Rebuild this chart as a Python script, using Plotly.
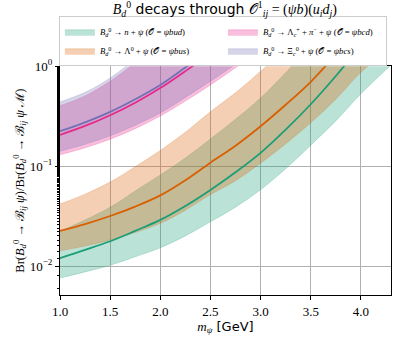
import plotly.graph_objects as go

# x grid (m_psi in GeV)
m_psi = [1.0, 1.25, 1.5, 1.75, 2.0, 2.25, 2.5, 2.75, 3.0, 3.25, 3.5, 3.75, 4.0, 4.3]

# B_d^0 -> n + psi  (O = psi b u d)
n_mid = [0.0120, 0.0145, 0.0177, 0.0225, 0.0290, 0.0400, 0.0579, 0.0869, 0.136, 0.232, 0.417, 0.80, 1.60, 3.40]
n_lo = [0.00757, 0.00874, 0.01018, 0.01238, 0.01523, 0.02004, 0.02773, 0.03884, 0.05807, 0.0944, 0.1622, 0.284, 0.530, 1.03]
n_hi = [0.02234, 0.02893, 0.03873, 0.05652, 0.08172, 0.1208, 0.1874, 0.2944, 0.4825, 0.862, 1.622, 3.185, 6.67, 14.8]

# B_d^0 -> Lambda^0 + psi  (O = psi b u s)
lam_mid = [0.0225, 0.0263, 0.0317, 0.0394, 0.0510, 0.0724, 0.1084, 0.1603, 0.251, 0.412, 0.700, 1.318, 2.63, 5.0]
lam_lo = [0.0142, 0.01586, 0.01823, 0.02167, 0.02678, 0.03627, 0.05192, 0.07165, 0.1072, 0.1677, 0.2723, 0.4679, 0.8705, 1.51]
lam_hi = [0.0419, 0.05247, 0.06936, 0.09897, 0.1437, 0.2186, 0.3508, 0.5431, 0.8905, 1.531, 2.723, 5.247, 10.96, 21.8]

# B_d^0 -> Lambda_c^+ + pi^- + psi  (O = psi b c d)
lc_mid = [0.206, 0.253, 0.324, 0.432, 0.605, 0.895, 1.36, 2.16, 3.5, 5.8, 9.7, 16.6, 28.5, 55.0]
lc_lo = [0.130, 0.1526, 0.1863, 0.2376, 0.3176, 0.4484, 0.6514, 0.9655, 1.4945, 2.36, 3.77, 5.89, 9.43, 16.6]
lc_hi = [0.402, 0.5047, 0.7089, 1.085, 1.705, 2.703, 4.40, 7.32, 12.4, 21.5, 37.7, 66.1, 118.8, 240.0]

# B_d^0 -> Xi_c^0 + psi  (O = psi b c s)
xi_mid = [0.224, 0.275, 0.350, 0.468, 0.650, 0.973, 1.479, 2.344, 3.80, 6.3, 10.5, 18.0, 31.0, 60.0]
xi_lo = [0.1413, 0.1658, 0.2013, 0.2574, 0.3413, 0.4875, 0.7084, 1.048, 1.623, 2.564, 4.085, 6.39, 10.26, 18.1]
xi_hi = [0.44, 0.5486, 0.7658, 1.176, 1.832, 2.938, 4.786, 7.94, 13.5, 23.4, 40.8, 71.7, 129.0, 262.0]

x_ticks = [1.0, 1.5, 2.0, 2.5, 3.0, 3.5, 4.0]
x_ticktext = ["1.0", "1.5", "2.0", "2.5", "3.0", "3.5", "4.0"]
y_ticks = [0.01, 0.1, 1]
y_ticktext = ["10<sup>−2</sup>", "10<sup>−1</sup>", "10<sup>0</sup>"]

SANS = "DejaVu Sans"
SERIF = "Liberation Serif"

def sans(t):
    return f'<span style="font-family:{SANS}">{t}</span>'

Bd = "<i>B</i><sub><i>d</i></sub><sup>0</sup>"

series = [
    (Bd + " → <i>n</i> + <i>ψ</i> (𝒪 = <i>ψbud</i>)", n_lo, n_mid, n_hi, (27, 158, 119), 1),
    (Bd + " → Λ<sup>0</sup> + <i>ψ</i> (𝒪 = <i>ψbus</i>)", lam_lo, lam_mid, lam_hi, (217, 95, 2), 3),
    (Bd + " → Λ<sub><i>c</i></sub><sup>+</sup> + <i>π</i><sup>−</sup> + <i>ψ</i> (𝒪 = <i>ψbcd</i>)", lc_lo, lc_mid, lc_hi, (231, 41, 138), 2),
    (Bd + " → Ξ<sub><i>c</i></sub><sup>0</sup> + <i>ψ</i> (𝒪 = <i>ψbcs</i>)", xi_lo, xi_mid, xi_hi, (117, 112, 179), 4),
]

fig = go.Figure()
# uncertainty bands first
for name, lo, mid, hi, (r, g, b), rank in series:
    fig.add_trace(go.Scatter(x=m_psi, y=lo, mode="lines", line=dict(width=0.6, color=f"rgba({r},{g},{b},0.35)", shape="spline"),
                             showlegend=False, hoverinfo="skip"))
    fig.add_trace(go.Scatter(x=m_psi, y=hi, mode="lines", fill="tonexty", fillcolor=f"rgba({r},{g},{b},0.3)",
                             line=dict(width=0.6, color=f"rgba({r},{g},{b},0.35)", shape="spline"),
                             name=name, legendrank=rank, showlegend=True))
# central lines on top
for name, lo, mid, hi, (r, g, b), rank in series:
    fig.add_trace(go.Scatter(x=m_psi, y=mid, mode="lines", line=dict(width=1.8, color=f"rgb({r},{g},{b})", shape="spline"),
                             showlegend=False))

fig.update_layout(
    width=398, height=340,
    margin=dict(l=60, r=7, t=63, b=45),
    paper_bgcolor="white", plot_bgcolor="white",
    font=dict(family=SERIF, size=12, color="black"),
    title=dict(text=Bd + sans(" decays through ") + "𝒪<sup>1</sup><sub><i>ij</i></sub> = (<i>ψb</i>)(<i>u<sub>i</sub>d<sub>j</sub></i>)",
               x=0.565, xanchor="center", y=0.973, yanchor="middle", font=dict(size=14, family=SERIF)),
    legend=dict(orientation="h", traceorder="normal",
                xref="container", yref="container",
                x=0.148, xanchor="left", y=0.952, yanchor="top",
                entrywidth=118, entrywidthmode="pixels", itemwidth=30,
                bordercolor="#cccccc", borderwidth=1, bgcolor="white",
                font=dict(size=8.7, family=SERIF), tracegroupgap=0),
    showlegend=True,
)

fig.update_xaxes(range=[1.0, 4.3], tickvals=x_ticks, ticktext=x_ticktext,
                 showgrid=True, gridcolor="#b0b0b0", gridwidth=1,
                 showline=True, linecolor="black", linewidth=1, mirror=True,
                 ticks="outside", ticklen=4, tickcolor="black",
                 tickfont=dict(size=13, family=SERIF), automargin=False,
                 title=dict(text="<i>m<sub>ψ</sub></i>" + sans(" [GeV]"), font=dict(size=13), standoff=2),
                 zeroline=False)
fig.update_yaxes(type="log", range=[-2.29, 0.0], tickvals=y_ticks, ticktext=y_ticktext,
                 showgrid=True, gridcolor="#b0b0b0", gridwidth=1,
                 showline=True, linecolor="black", linewidth=1, mirror=True,
                 ticks="outside", ticklen=4, tickcolor="black",
                 minor=dict(ticks="outside", ticklen=2, tickcolor="black", showgrid=False),
                 tickfont=dict(size=13, family=SERIF), automargin=False,
                 title=dict(text="Br(" + Bd + " → ℬ<sub><i>ij</i></sub> <i>ψ</i>)/Br(" + Bd + " → ℬ<sub><i>ij</i></sub> <i>ψ</i> ℳ)",
                            font=dict(size=12.5), standoff=2),
                 zeroline=False)

fig.write_html("out.html", config={"displayModeBar": False},
               post_script="document.body.style.margin='0px';document.body.style.padding='0px';")
